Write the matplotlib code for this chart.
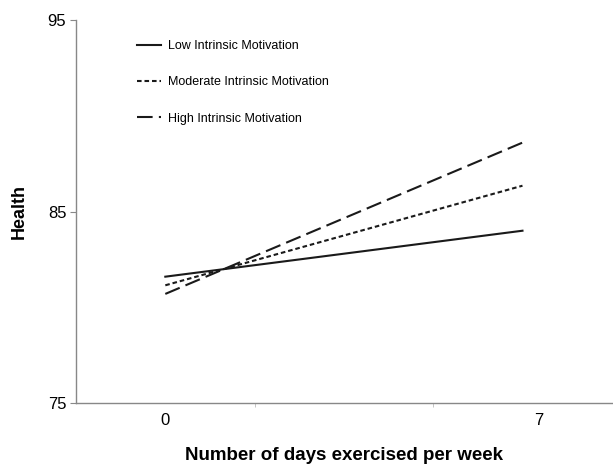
import numpy as np
import matplotlib
matplotlib.use("Agg")
import matplotlib.pyplot as plt
import matplotlib.transforms as mtransforms

plt.rcParams['font.family'] = ['Liberation Sans', 'DejaVu Sans']

# =========================
# Data
# =========================
days = [0, 7]
low_motivation = [81.6, 84.0]
moderate_motivation = [81.15, 86.35]
high_motivation = [80.7, 88.6]
series_labels = ["Low Intrinsic Motivation", "Moderate Intrinsic Motivation", "High Intrinsic Motivation"]
y_ticks = [75, 85, 95]

# =========================
# Plot
# =========================
fig = plt.figure(figsize=(6.13, 4.66), dpi=100)
ax = fig.add_axes([0.124, 0.135, 0.874, 0.822])

ax.plot(days, low_motivation, color="#1a1a1a", lw=1.5, label=series_labels[0])
ax.plot(days, moderate_motivation, color="#1a1a1a", lw=1.5, dashes=(2.2, 1.4), label=series_labels[1])
ax.plot(days, high_motivation, color="#1a1a1a", lw=1.5, dashes=(7.5, 3), label=series_labels[2])

ax.set_xlim(-1.75, 8.75)
ax.set_ylim(75, 95)
ax.set_yticks(y_ticks)
ax.set_xticks(days)
ax.set_xticklabels(["0", "7"])
ax.set_xticks([1.75, 5.25], minor=True)

for s in ["top", "right"]:
    ax.spines[s].set_visible(False)
for s in ["left", "bottom"]:
    ax.spines[s].set_color("#888888")
    ax.spines[s].set_linewidth(1.0)

ax.tick_params(axis="y", length=4, color="#888888", labelsize=12, pad=3)
ax.tick_params(axis="x", which="major", length=0, labelsize=12, pad=7)
ax.tick_params(axis="x", which="minor", length=3, color="#bbbbbb")

# the "7" label sits a bit right of its point in the original
offset = mtransforms.ScaledTranslation(0.16, 0, fig.dpi_scale_trans)
lbl7 = ax.get_xticklabels()[1]
lbl7.set_transform(lbl7.get_transform() + offset)

ax.set_ylabel("Health", fontsize=13, fontweight="bold", labelpad=14)
ax.set_xlabel("Number of days exercised per week", fontsize=13.5, fontweight="bold", labelpad=14)

leg = ax.legend(loc="upper left", bbox_to_anchor=(0.114, 0.948), frameon=False,
                fontsize=9, handlelength=1.9, handletextpad=0.55,
                labelspacing=1.95, borderaxespad=0, borderpad=0)

fig.savefig("out.png", dpi=100)
